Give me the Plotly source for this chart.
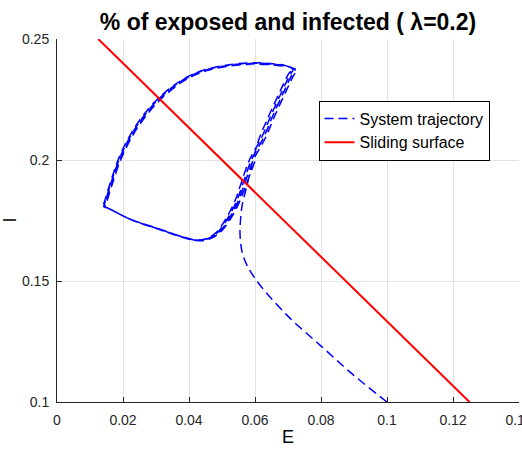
import plotly.graph_objects as go

# ---- data ----
approach_E = [0.1000, 0.0898, 0.0802, 0.0696, 0.0600, 0.0565, 0.0555, 0.0556, 0.0562, 0.0575, 0.0592]
approach_I = [0.1000, 0.1112, 0.1229, 0.1360, 0.1511, 0.1600, 0.1683, 0.1750, 0.1820, 0.1890, 0.1990]

loop1_E = [0.0613, 0.0643, 0.0678, 0.0699, 0.0709, 0.0704, 0.0693, 0.0659, 0.0603, 0.0534, 0.0464, 0.0419, 0.0366, 0.0307, 0.0264, 0.0223, 0.0188, 0.0160, 0.0145, 0.0140, 0.0150, 0.0220, 0.0317, 0.0380, 0.0420, 0.0452, 0.0482, 0.0517, 0.0539, 0.0557, 0.0583]
loop1_I = [0.2090, 0.2186, 0.2290, 0.2350, 0.2372, 0.2383, 0.2390, 0.2397, 0.2402, 0.2396, 0.2379, 0.2359, 0.2320, 0.2255, 0.2189, 0.2106, 0.2010, 0.1900, 0.1833, 0.1808, 0.1804, 0.1757, 0.1712, 0.1683, 0.1670, 0.1675, 0.1700, 0.1770, 0.1830, 0.1900, 0.2000]

loop2_E = [0.0619, 0.0649, 0.0684, 0.0705, 0.0715, 0.0709, 0.0697, 0.0662, 0.0604, 0.0534, 0.0464, 0.0419, 0.0367, 0.0309, 0.0266, 0.0225, 0.0190, 0.0162, 0.0147, 0.0142, 0.0151, 0.0221, 0.0317, 0.0380, 0.0420, 0.0454, 0.0486, 0.0522, 0.0544, 0.0563, 0.0589]
loop2_I = [0.2090, 0.2186, 0.2290, 0.2350, 0.2372, 0.2381, 0.2388, 0.2395, 0.2400, 0.2394, 0.2377, 0.2357, 0.2318, 0.2253, 0.2187, 0.2104, 0.2008, 0.1898, 0.1831, 0.1807, 0.1803, 0.1756, 0.1711, 0.1682, 0.1669, 0.1674, 0.1700, 0.1770, 0.1830, 0.1900, 0.2000]

loop3_E = [0.0625, 0.0655, 0.0690, 0.0711, 0.0721, 0.0714, 0.0701, 0.0665, 0.0605, 0.0534, 0.0464, 0.0420, 0.0369, 0.0311, 0.0268, 0.0227, 0.0192, 0.0164, 0.0149, 0.0144, 0.0153, 0.0222, 0.0318, 0.0381, 0.0421, 0.0457, 0.0490, 0.0527, 0.0549, 0.0568, 0.0595]
loop3_I = [0.2090, 0.2186, 0.2290, 0.2350, 0.2372, 0.2379, 0.2386, 0.2393, 0.2398, 0.2392, 0.2375, 0.2355, 0.2316, 0.2251, 0.2185, 0.2102, 0.2006, 0.1896, 0.1829, 0.1806, 0.1802, 0.1755, 0.1710, 0.1681, 0.1668, 0.1673, 0.1700, 0.1770, 0.1830, 0.1900, 0.2000]

loop4_E = [0.0631, 0.0661, 0.0696, 0.0717, 0.0727, 0.0719, 0.0705, 0.0668, 0.0606, 0.0534, 0.0464, 0.0421, 0.0370, 0.0313, 0.0270, 0.0229, 0.0194, 0.0166, 0.0151, 0.0146, 0.0155, 0.0223, 0.0318, 0.0381, 0.0421, 0.0459, 0.0494, 0.0532, 0.0554, 0.0574, 0.0601]
loop4_I = [0.2090, 0.2186, 0.2290, 0.2350, 0.2372, 0.2377, 0.2384, 0.2391, 0.2396, 0.2390, 0.2373, 0.2353, 0.2314, 0.2249, 0.2183, 0.2100, 0.2004, 0.1894, 0.1827, 0.1805, 0.1801, 0.1754, 0.1709, 0.1680, 0.1667, 0.1672, 0.1700, 0.1770, 0.1830, 0.1900, 0.2000]

surface_E = [0.0125, 0.125]
surface_I = [0.25, 0.10]

x_ticks = [0, 0.02, 0.04, 0.06, 0.08, 0.10, 0.12, 0.14]
x_labels = ["0", "0.02", "0.04", "0.06", "0.08", "0.1", "0.12", "0.14"]
y_ticks = [0.10, 0.15, 0.20, 0.25]
y_labels = ["0.1", "0.15", "0.2", "0.25"]

traj_E = approach_E + loop1_E + loop2_E + loop3_E + loop4_E
traj_I = approach_I + loop1_I + loop2_I + loop3_I + loop4_I

FONT = "Liberation Sans, Arial, Helvetica, sans-serif"
AX = "#262626"

fig = go.Figure()
fig.add_trace(go.Scatter(
    x=traj_E, y=traj_I, mode="lines", name="System trajectory",
    line=dict(color="#0000ff", width=1.5, dash="9px,5px", shape="spline", smoothing=1),
))
fig.add_trace(go.Scatter(
    x=surface_E, y=surface_I, mode="lines", name="Sliding surface",
    line=dict(color="#ff0000", width=2),
))

axis_common = dict(
    showgrid=True, gridcolor="#e3e3e3", gridwidth=1,
    showline=True, linecolor=AX, linewidth=1,
    ticks="inside", ticklen=5, tickcolor=AX, tickwidth=1,
    zeroline=False, mirror=False, automargin=False,
    tickfont=dict(family=FONT, size=14, color=AX),
    ticklabeloverflow="allow",
)

fig.update_layout(
    width=522, height=450,
    margin=dict(l=57, r=3, t=39, b=48, autoexpand=False),
    paper_bgcolor="white", plot_bgcolor="white",
    font=dict(family=FONT, color="black"),
    title=dict(
        text="<b>% of exposed and infected ( λ=0.2)</b>",
        font=dict(family=FONT, size=23, color="black"),
        x=0.5, xanchor="center", xref="paper",
        y=1 - 22 / 450, yanchor="middle", yref="container",
    ),
    xaxis=dict(range=[0, 0.14], tickvals=x_ticks, ticktext=x_labels,
               ticklabelstandoff=5, **axis_common),
    yaxis=dict(range=[0.10, 0.25], tickvals=y_ticks, ticktext=y_labels,
               ticklabelstandoff=4, **axis_common),
    legend=dict(
        x=(404 - 57) / 462, y=(402 - 130.5) / 363, xanchor="center", yanchor="middle",
        bgcolor="white", bordercolor="black", borderwidth=1,
        font=dict(family=FONT, size=16, color="black"),
        tracegroupgap=0,
    ),
    showlegend=True,
)
fig.add_annotation(text="E", xref="paper", yref="paper", x=0.5, y=-(437 - 402) / 363,
                   xanchor="center", yanchor="middle", showarrow=False,
                   font=dict(family=FONT, size=18, color="black"))
fig.add_annotation(text="I", xref="paper", yref="paper", x=-(57 - 9) / 462, y=0.5,
                   xanchor="center", yanchor="middle", showarrow=False, textangle=-90,
                   font=dict(family=FONT, size=18, color="black"))

fig.write_html("out.html")
